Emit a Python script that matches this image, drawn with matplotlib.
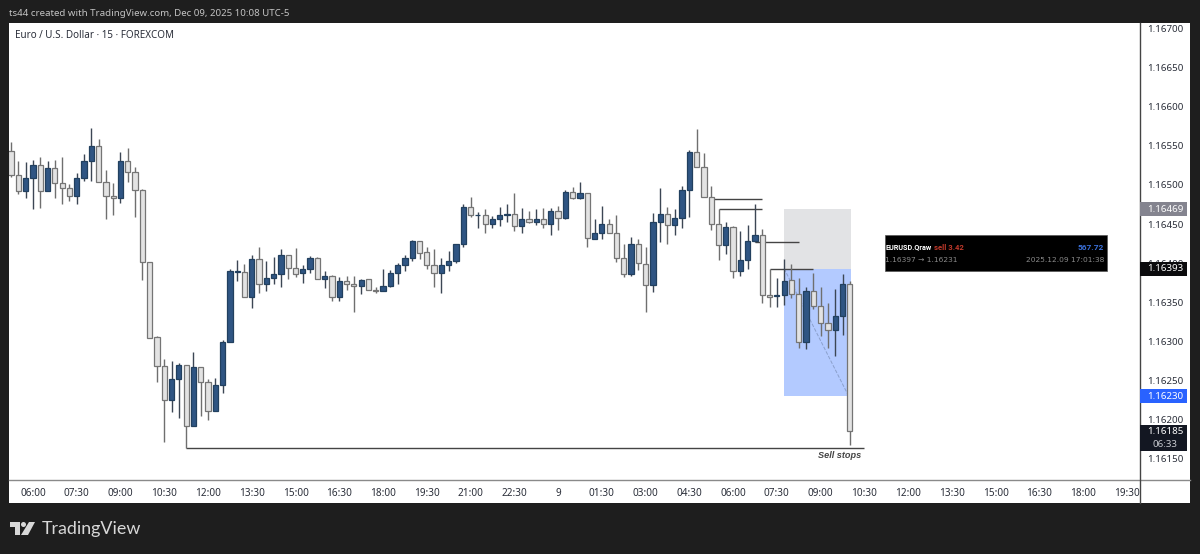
import numpy as np
import matplotlib
matplotlib.use('Agg')
import matplotlib.pyplot as plt
from matplotlib.patches import Rectangle, Polygon, Circle

# prices are in points above 1.16000 (1 point = 0.00001)
opens = [543, 512, 492, 509, 525, 492, 522, 502, 496, 486, 509, 530, 550, 504, 486, 483, 530, 516, 494, 402,
         306, 269, 225, 252, 270, 192, 267, 248, 211, 244, 299, 389, 389, 357, 405, 374, 381, 386, 411, 394,
         387, 393, 407, 380, 383, 357, 377, 374, 371, 380, 366, 364, 371, 387, 397, 407, 428, 414, 398, 387,
         398, 403, 425, 472, 461, 462, 450, 457, 462, 463, 448, 456, 452, 456, 450, 467, 458, 491, 483, 489,
         431, 438, 450, 439, 407, 386, 425, 399, 372, 453, 463, 449, 458, 493, 542, 523, 484, 450, 423, 446,
         390, 404, 428, 436, 359, 358, 359, 378, 361, 299, 365, 345, 323, 314, 332, 374]
highs = [555, 530, 529, 532, 536, 530, 532, 535, 501, 515, 539, 573, 558, 519, 502, 542, 547, 523, 495, 402,
         307, 278, 275, 273, 270, 286, 268, 252, 253, 302, 393, 404, 399, 410, 420, 403, 408, 418, 411, 419,
         397, 409, 408, 390, 385, 382, 384, 384, 380, 380, 369, 393, 391, 400, 410, 430, 428, 421, 418, 406,
         415, 425, 475, 484, 465, 469, 460, 472, 476, 489, 470, 467, 469, 470, 471, 473, 493, 497, 504, 489,
         456, 473, 456, 462, 424, 434, 431, 421, 464, 496, 472, 469, 499, 544, 571, 541, 499, 469, 452, 448,
         441, 449, 476, 444, 392, 381, 405, 399, 381, 369, 388, 370, 349, 367, 386, 377]
lows = [510, 488, 483, 469, 471, 492, 483, 476, 480, 476, 505, 505, 504, 456, 462, 477, 504, 459, 378, 304,
        248, 172, 210, 202, 164, 192, 205, 200, 211, 234, 299, 377, 357, 343, 362, 364, 373, 370, 380, 382,
        375, 388, 380, 368, 352, 352, 366, 337, 361, 366, 362, 364, 370, 373, 390, 403, 405, 393, 369, 362,
        390, 400, 421, 459, 445, 438, 445, 447, 453, 441, 438, 451, 449, 445, 436, 442, 457, 482, 482, 421,
        431, 431, 438, 402, 382, 383, 391, 337, 363, 427, 425, 436, 445, 459, 523, 484, 442, 404, 412, 381,
        384, 392, 427, 349, 344, 344, 346, 356, 292, 290, 342, 307, 292, 282, 308, 168]
closes = [512, 492, 509, 525, 492, 522, 502, 496, 486, 509, 530, 550, 504, 486, 483, 530, 516, 494, 402, 305,
          269, 225, 252, 270, 192, 267, 248, 211, 244, 299, 390, 390, 357, 405, 374, 381, 386, 411, 394, 386,
          393, 407, 380, 383, 357, 377, 374, 371, 379, 366, 364, 371, 387, 397, 407, 428, 413, 398, 387, 398,
          403, 425, 472, 461, 462, 450, 457, 462, 463, 448, 456, 452, 456, 450, 467, 458, 491, 483, 489, 432,
          438, 450, 439, 407, 386, 425, 400, 372, 453, 463, 449, 458, 493, 542, 523, 484, 450, 423, 446, 390,
          404, 428, 436, 359, 357, 359, 377, 361, 299, 364, 345, 323, 314, 332, 374, 185]

price_ticks = [1.167, 1.1665, 1.166, 1.1655, 1.165, 1.1645, 1.164, 1.1635, 1.163, 1.1625, 1.162, 1.1615]
time_labels = ['06:00', '07:30', '09:00', '10:30', '12:00', '13:30', '15:00', '16:30', '18:00', '19:30',
               '21:00', '22:30', '9', '01:30', '03:00', '04:30', '06:00', '07:30', '09:00', '10:30',
               '12:00', '13:30', '15:00', '16:30', '18:00', '19:30']

# swing lines: start bar, end bar, price
level_starts = [96, 97, 102, 104, 24]
level_ends = [103, 103, 108, 110, 117]
level_prices = [1.16482, 1.16469, 1.16427, 1.16392, 1.16164]

entry_price = 1.16393
stop_price = 1.16469
target_price = 1.16230
last_price = 1.16185

BG = '#1e1e1e'
UP = '#2f5583'
UP_EDGE = '#22405f'
DOWN = '#e3e3e3'
DOWN_EDGE = '#757575'
TEXT = '#2a2e39'

# pixel helpers, the reference has 7.293 px per bar and 78.3 px per 0.001
BAR_PX = 7.293
PRICE_PX = 78300.0
PANE_L, PANE_R, PANE_T, PANE_B = 9, 1140, 23, 480
W, H = 1200, 554


def make_ohlc():
    o = 1.16 + np.array(opens) / 1e5
    h = 1.16 + np.array(highs) / 1e5
    l = 1.16 + np.array(lows) / 1e5
    c = 1.16 + np.array(closes) / 1e5
    return o, h, l, c


# Dark frame, white panel and the text around the chart
def draw_frame(fig):
    bg = fig.add_axes([0, 0, 1, 1], zorder=0)
    bg.set_xlim(0, W)
    bg.set_ylim(H, 0)
    bg.axis('off')
    bg.add_patch(Rectangle((PANE_L, PANE_T), 1190 - PANE_L, 503 - PANE_T, fc='white', ec='none'))
    bg.plot([PANE_L, 1190], [PANE_B, PANE_B], color='#8a8a8a', lw=1)
    bg.plot([PANE_R, PANE_R], [PANE_T, 503], color='#444444', lw=1)
    bg.text(9, 13, 'ts44 created with TradingView.com, Dec 09, 2025 10:08 UTC-5', color='#c4c4c4',
            fontsize=6.95, family='Noto Sans', va='center')
    bg.text(15, 36, 'Euro / U.S. Dollar · 15 · FOREXCOM', color=TEXT, fontsize=7.1,
            family='Noto Sans', va='center')

    # logo
    bg.add_patch(Polygon([(10, 522), (20, 522), (20, 535), (15, 535), (15, 527), (10, 527)], fc='#d8d8d8', ec='none'))
    bg.add_patch(Circle((23.5, 524.5), 2.5, fc='#d8d8d8', ec='none'))
    bg.add_patch(Polygon([(29, 522), (35, 522), (28, 535), (21, 535)], fc='#d8d8d8', ec='none'))
    bg.text(41.5, 529, 'TradingView', color='#d8d8d8', fontsize=12.9, family='Lato', va='center')


def draw_candles(ax, o, h, l, c):
    idx = np.arange(len(o))
    up = c >= o
    ax.vlines(idx[up], l[up], h[up], color='#3c4654', lw=1, zorder=3)
    ax.vlines(idx[~up], l[~up], h[~up], color='#6f6f6f', lw=1, zorder=3)
    body = np.abs(c - o)
    bottom = np.minimum(o, c)
    ax.bar(idx[up], body[up], bottom=bottom[up], width=0.72, color=UP, edgecolor=UP_EDGE, lw=0.9, zorder=4)
    ax.bar(idx[~up], body[~up], bottom=bottom[~up], width=0.72, color=DOWN, edgecolor=DOWN_EDGE, lw=0.9, zorder=4)


# The short position box and the swing lines
def draw_position(ax):
    ax.add_patch(Rectangle((106, entry_price), 9.2, stop_price - entry_price, fc='#e2e3e5', ec='none', zorder=1))
    ax.add_patch(Rectangle((106, target_price), 9.2, entry_price - target_price, fc='#b3caff', ec='none', zorder=1))
    ax.plot([106, 114.8], [entry_price, target_price + 0.00001], color='#8ba0cc', lw=0.7, ls='--', zorder=2)
    ax.hlines(level_prices, level_starts, level_ends, color='#444444', lw=1, zorder=2)
    ax.text(116.6, 1.16164 - 0.00004, 'Sell stops', fontsize=6.6, style='italic', weight='bold', color='#444444',
            family='Liberation Sans', ha='right', va='top')


def price_tag(ax, price, label, color, text_color='white'):
    h = 14 / PRICE_PX
    right = (1187 - PANE_L) / (PANE_R - PANE_L)
    ax.add_patch(Rectangle((1.0, price - h / 2), right - 1.0, h, fc=color, ec='none', zorder=6,
                           transform=ax.get_yaxis_transform(), clip_on=False))
    ax.text((1165 - PANE_L) / (PANE_R - PANE_L), price, label, color=text_color, fontsize=7, weight='bold',
            family='Noto Sans', ha='center', va='center', zorder=7, transform=ax.get_yaxis_transform())


def draw_price_tags(ax):
    price_tag(ax, stop_price, '1.16469', '#84848f')
    price_tag(ax, entry_price, '1.16393', '#0b0b0d')
    price_tag(ax, target_price, '1.16230', '#2962ff')

    # last price with the countdown below it
    tf = ax.get_yaxis_transform()
    right = (1187 - PANE_L) / (PANE_R - PANE_L)
    mid = (1165 - PANE_L) / (PANE_R - PANE_L)
    ax.add_patch(Rectangle((1.0, last_price - 19.5 / PRICE_PX), right - 1.0, 26 / PRICE_PX, fc='#131722', ec='none',
                           zorder=6, transform=tf, clip_on=False))
    ax.text(mid, last_price, '1.16185', color='white', fontsize=7, weight='bold', family='Noto Sans',
            ha='center', va='center', zorder=7, transform=tf)
    ax.text(mid, last_price - 13 / PRICE_PX, '06:33', color='#c8cad0', fontsize=7, family='Noto Sans',
            ha='center', va='center', zorder=7, transform=tf)


# Black trade card pasted on the chart
def draw_trade_card(fig):
    top = fig.add_axes([0, 0, 1, 1], zorder=5)
    top.set_xlim(0, W)
    top.set_ylim(H, 0)
    top.axis('off')
    top.patch.set_alpha(0)
    top.add_patch(Rectangle((885, 234.5), 222, 36, fc='#000000', ec='#555555', lw=0.5))
    top.text(885, 247.5, 'EURUSD.Qraw', color='white', fontsize=5.2, weight='bold', family='Roboto', va='center')
    top.text(934, 247.5, 'sell 3.42', color='#c0392b', fontsize=5.6, weight='bold', family='Roboto', va='center')
    top.text(1104, 247.5, '567.72', color='#3a6fd8', fontsize=6, weight='bold', family='Roboto', va='center', ha='right')
    top.text(885, 260, '1.16397 → 1.16231', color='#8a8a8a', fontsize=5.4, family='DejaVu Sans', va='center')
    top.text(1104, 260, '2025.12.09 17:01:38', color='#8a8a8a', fontsize=5.4, family='DejaVu Sans', va='center', ha='right')


def main():
    o, h, l, c = make_ohlc()

    fig = plt.figure(figsize=(W / 100, H / 100), dpi=100, facecolor=BG)
    draw_frame(fig)

    ax = fig.add_axes([PANE_L / W, 1 - PANE_B / H, (PANE_R - PANE_L) / W, (PANE_B - PANE_T) / H], zorder=2)
    ax.patch.set_alpha(0)

    # bar i sits at x = 11.1 + 7.293 i, price 1.1645 sits at y = 224
    ax.set_xlim((PANE_L - 11.1) / BAR_PX, (PANE_R - 11.1) / BAR_PX)
    ax.set_ylim(1.1645 - (PANE_B - 224) / PRICE_PX, 1.1645 + (224 - PANE_T) / PRICE_PX)

    for s in ax.spines.values():
        s.set_visible(False)

    ax.yaxis.tick_right()
    ax.set_yticks(price_ticks)
    ax.set_yticklabels(['{:.5f}'.format(p) for p in price_ticks], fontsize=7, color=TEXT, family='Noto Sans')
    ax.set_xticks(3 + 6 * np.arange(len(time_labels)))
    ax.set_xticklabels(time_labels, fontsize=7.2, color=TEXT, family='Noto Sans')
    ax.tick_params(axis='both', length=0)
    ax.tick_params(axis='y', pad=5)
    ax.tick_params(axis='x', pad=6)
    for t in ax.get_xticklabels():
        if t.get_text() == '9':
            t.set_fontweight('bold')

    draw_position(ax)
    draw_candles(ax, o, h, l, c)
    draw_price_tags(ax)
    draw_trade_card(fig)

    fig.savefig('out.png', dpi=100, facecolor=BG)


if __name__ == '__main__':
    main()
